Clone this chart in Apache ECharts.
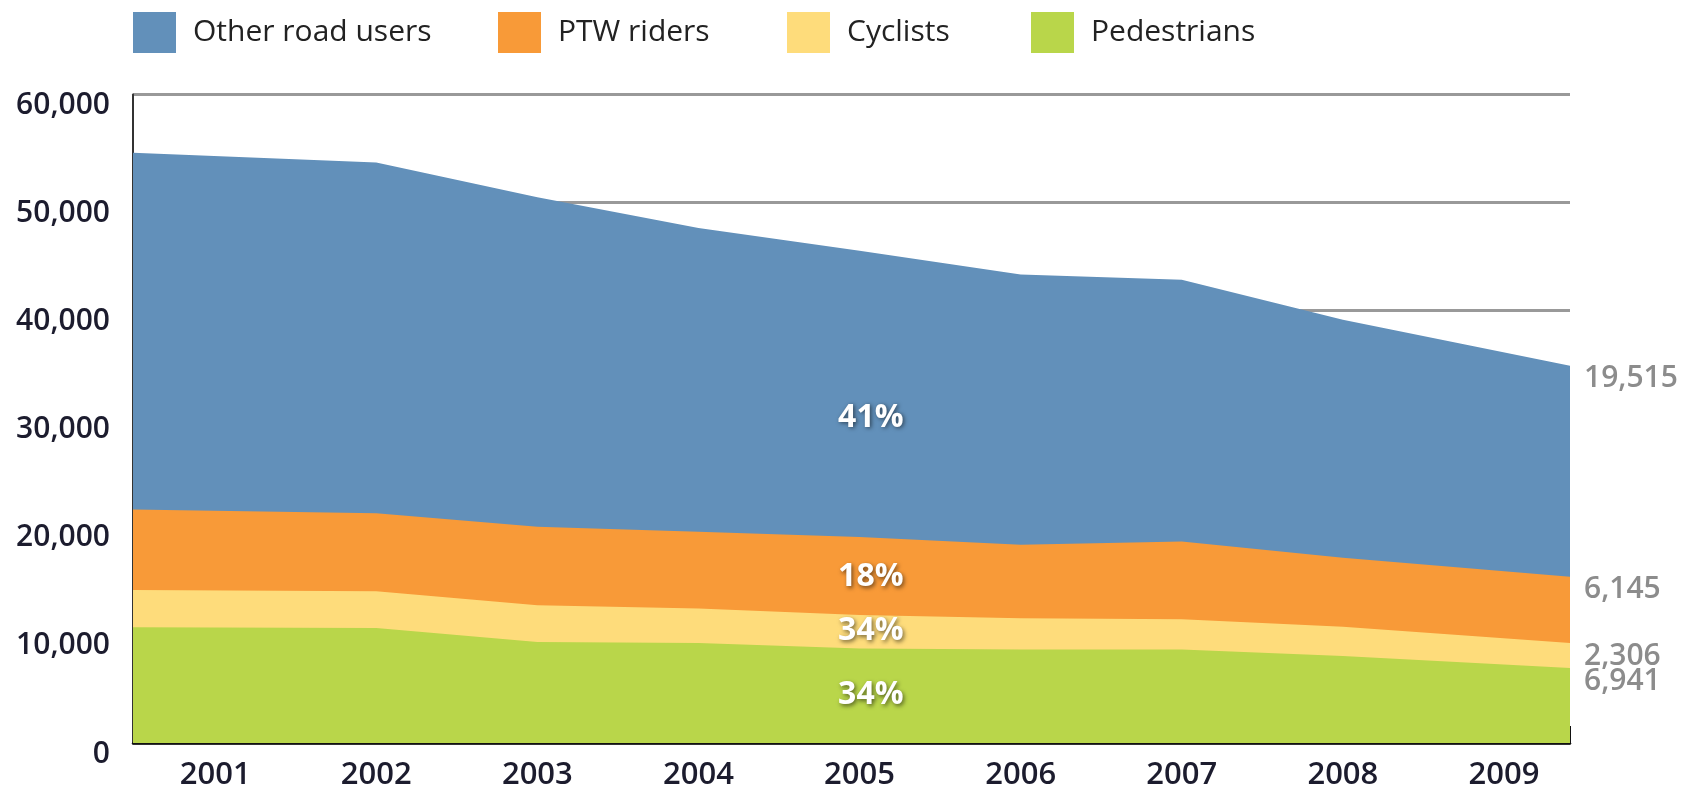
<!DOCTYPE html>
<html><head><meta charset="utf-8">
<script src="https://cdn.jsdelivr.net/npm/echarts@6/dist/echarts.min.js"></script>
<style>html,body{margin:0;padding:0;background:#fff}#c{width:1690px;height:791px}</style>
</head><body><div id="c"></div>
<script>
// ---- data ----
const years = [2001, 2002, 2003, 2004, 2005, 2006, 2007, 2008, 2009];
const pedestrians    = [10700, 10650, 9350, 9250, 8750, 8650, 8650, 8050, 6941];
const cyclists       = [3450, 3400, 3400, 3200, 3100, 2900, 2800, 2700, 2306];
const ptwRiders      = [7450, 7200, 7250, 7100, 7200, 6800, 7200, 6400, 6145];
const otherRoadUsers = [33000, 32450, 30500, 28100, 26500, 25000, 24200, 22000, 19515];
const seriesNames = ['Other road users', 'PTW riders', 'Cyclists', 'Pedestrians'];
const shareLabels = ['41%', '18%', '34%', '34%'];
const shareLabelValues = [30100, 15330, 10350, 4430];
const yTicks = [0, 10000, 20000, 30000, 40000, 50000, 60000];

// ---- layout/style ----
const colors = ['#6290BA', '#F89A38', '#FEDC7B', '#B9D64A'];
const X_MIN = 2000.49, X_MAX = 2009.41;  // plot edges (area stretched to edges, Excel style)
const FONT = '"Open Sans", "Noto Sans", sans-serif';
const n = years.length;
const xPos = i => (i === 0 ? X_MIN : (i === n - 1 ? X_MAX : years[i]));
const fmt = v => v.toLocaleString('en-US');

// layers bottom -> top
const layers = [pedestrians, cyclists, ptwRiders, otherRoadUsers];
const cum = [];
layers.forEach((arr, k) => cum.push(arr.map((v, i) => v + (k ? cum[k - 1][i] : 0))));
// series order: top layer first (painted first), matching legend order
const seriesLayers = [3, 2, 1, 0];

const series = seriesLayers.map((k, s) => ({
  name: seriesNames[s],
  type: 'line',
  symbol: 'none',
  silent: true,
  itemStyle: { color: colors[s] },
  lineStyle: { width: 0 },
  areaStyle: { color: colors[s], opacity: 1, origin: 'start' },
  data: cum[k].map((v, i) => [xPos(i), v]),
  endLabel: {
    show: true,
    formatter: () => fmt(layers[k][n - 1]),
    distance: 14,
    offset: [0, 13],
    fontFamily: FONT, fontSize: 30, fontWeight: 600, color: '#8C8C8C'
  },
  markPoint: {
    symbol: 'circle', symbolSize: 0, silent: true,
    label: {
      show: true, position: 'inside', formatter: shareLabels[s],
      fontFamily: FONT, fontSize: 32, fontWeight: 700, color: '#ffffff',
      textShadowColor: 'rgba(0,0,0,0.55)', textShadowBlur: 4, textShadowOffsetX: 1.5, textShadowOffsetY: 1.5
    },
    data: [{ coord: [2005.07, shareLabelValues[s]] }]
  }
}));

const legendX = [133, 498, 787, 1031];
const legend = seriesNames.map((name, s) => ({
  data: [name], left: legendX[s], top: 12, padding: 0,
  icon: 'rect', itemWidth: 43, itemHeight: 41, selectedMode: false,
  textStyle: { fontFamily: FONT, fontSize: 30, color: '#222', padding: [0, 0, 0, 12] }
}));

const chart = echarts.init(document.getElementById('c'), null, { renderer: 'canvas' });
chart.setOption({
  animation: false,
  backgroundColor: '#ffffff',
  legend,
  grid: { left: 133, right: 120, top: 94.5, bottom: 47, containLabel: false },
  xAxis: {
    type: 'value', min: X_MIN, max: X_MAX,
    axisLine: { show: true, onZero: true, lineStyle: { color: '#111', width: 2.5 } },
    axisTick: { show: true, customValues: [X_MAX], inside: true, length: 17, lineStyle: { color: '#111', width: 2 } },
    splitLine: { show: false },
    axisLabel: {
      customValues: years, formatter: v => String(v), margin: 17,
      fontFamily: FONT, fontSize: 31, fontWeight: 600, color: '#1c1c2e'
    }
  },
  yAxis: {
    type: 'value', min: yTicks[0], max: yTicks[yTicks.length - 1], interval: 10000,
    axisLine: { show: true, lineStyle: { color: '#333', width: 2 } },
    axisTick: { show: false },
    splitLine: { show: true, lineStyle: { color: '#999', width: 3 } },
    axisLabel: {
      formatter: v => fmt(v), margin: 23, verticalAlign: 'top', lineHeight: 22,
      fontFamily: FONT, fontSize: 30, fontWeight: 600, color: '#1c1c2e'
    }
  },
  series
});
</script></body></html>
